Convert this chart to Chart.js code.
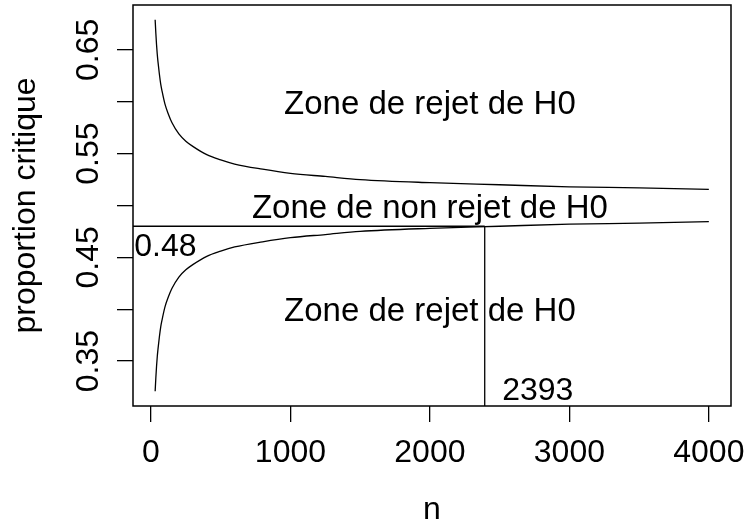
<!DOCTYPE html>
<html lang="fr">
<head>
    <meta charset="UTF-8">
    <title>proportion critique</title>
    <script src="https://cdn.jsdelivr.net/npm/chart.js"></script>
    <style>
        html, body { margin: 0; padding: 0; background: #fff; }
        #wrap { width: 748px; height: 525px; }
    </style>
</head>
<body>
    <div id="wrap"><canvas id="chartCanvas"></canvas></div>

    <script>
        // values
        const nValues = [30, 35, 40, 45, 50, 60, 70, 80, 100, 125, 150, 200, 250, 300, 400, 500, 600, 800, 1000, 1250, 1500, 2000, 2500, 3000, 3500, 4000];
        const upperBound = [0.679, 0.666, 0.655, 0.646, 0.639, 0.627, 0.617, 0.610, 0.598, 0.588, 0.580, 0.569, 0.562, 0.557, 0.549, 0.544, 0.540, 0.535, 0.531, 0.528, 0.525, 0.522, 0.520, 0.518, 0.517, 0.5155];
        const lowerBound = [0.321, 0.334, 0.345, 0.354, 0.361, 0.373, 0.383, 0.390, 0.402, 0.412, 0.420, 0.431, 0.438, 0.443, 0.451, 0.456, 0.460, 0.465, 0.469, 0.472, 0.475, 0.478, 0.480, 0.482, 0.483, 0.4845];
        const critP = 0.48;
        const critN = 2393;
        const xTicks = [0, 1000, 2000, 3000, 4000];
        const yTicks = [0.35, 0.40, 0.45, 0.50, 0.55, 0.60, 0.65];
        const yTickLabels = ['0.35', '', '0.45', '', '0.55', '', '0.65'];

        const xMin = -128.8, xMax = 4158.8;
        const yMin = 0.3067, yMax = 0.6933;
        const FONT = '"Liberation Sans", Arial, Helvetica, sans-serif';

        const toPoints = (xs, ys) => xs.map((x, i) => ({ x: x, y: ys[i] }));

        const lineStyle = {
            borderColor: '#000',
            borderWidth: 1.3,
            pointRadius: 0,
            fill: false,
            cubicInterpolationMode: 'monotone'
        };

        // R style texts, ticks labels and the box
        const rDecor = {
            id: 'rDecor',
            afterDraw(chart) {
                const c = chart.ctx;
                const a = chart.chartArea;
                const xs = chart.scales.x, ys = chart.scales.y;
                c.save();
                c.strokeStyle = '#000';
                c.lineWidth = 1.5;
                c.strokeRect(a.left, a.top, a.right - a.left, a.bottom - a.top);

                c.fillStyle = '#000';
                c.font = '32px ' + FONT;
                c.textBaseline = 'alphabetic';
                c.textAlign = 'center';

                // x tick labels
                xTicks.forEach(v => c.fillText(String(v), xs.getPixelForValue(v), 461.5));
                // x title
                c.fillText('n', (a.left + a.right) / 2, 518.5);

                // rotated y labels
                yTicks.forEach((v, i) => {
                    if (!yTickLabels[i]) return;
                    c.save();
                    c.translate(98, ys.getPixelForValue(v));
                    c.rotate(-Math.PI / 2);
                    c.fillText(yTickLabels[i], 0, 0);
                    c.restore();
                });
                c.save();
                c.translate(35, (a.top + a.bottom) / 2);
                c.rotate(-Math.PI / 2);
                c.fillText('proportion critique', 0, 0);
                c.restore();

                // zones
                c.font = '33px ' + FONT;
                c.fillText('Zone de rejet de H0', xs.getPixelForValue(2000), ys.getPixelForValue(0.6) + 12);
                c.fillText('Zone de non rejet de H0', xs.getPixelForValue(2000), ys.getPixelForValue(0.5) + 12);
                c.fillText('Zone de rejet de H0', xs.getPixelForValue(2000), ys.getPixelForValue(0.4) + 12);

                c.font = '32px ' + FONT;
                c.fillText(String(critN), xs.getPixelForValue(2773), ys.getPixelForValue(0.324) + 12);
                c.fillText(String(critP), xs.getPixelForValue(103), ys.getPixelForValue(0.4624) + 11);
                c.restore();
            }
        };

        const ctx = document.getElementById('chartCanvas').getContext('2d');
        const chart = new Chart(ctx, {
            type: 'line',
            data: {
                datasets: [
                    Object.assign({ data: toPoints(nValues, upperBound) }, lineStyle),
                    Object.assign({ data: toPoints(nValues, lowerBound) }, lineStyle),
                    Object.assign({ data: [{ x: xMin - 200, y: critP }, { x: critN, y: critP }] }, lineStyle, { cubicInterpolationMode: 'default', tension: 0 }),
                    Object.assign({ data: [{ x: critN, y: critP }, { x: critN, y: yMin - 0.05 }] }, lineStyle, { cubicInterpolationMode: 'default', tension: 0 })
                ]
            },
            options: {
                responsive: true,
                maintainAspectRatio: false,
                animation: false,
                events: [],
                layout: { padding: { left: 133, top: 5, right: 17, bottom: 119 } },
                plugins: { legend: { display: false }, tooltip: { enabled: false } },
                scales: {
                    x: {
                        type: 'linear',
                        min: xMin,
                        max: xMax,
                        afterBuildTicks: s => { s.ticks = xTicks.map(v => ({ value: v })); },
                        afterFit: s => { s.height = 0; },
                        ticks: { display: false },
                        border: { display: false },
                        grid: { drawOnChartArea: false, drawTicks: true, tickLength: 16, color: '#000', lineWidth: 1.3 }
                    },
                    y: {
                        type: 'linear',
                        min: yMin,
                        max: yMax,
                        afterBuildTicks: s => { s.ticks = yTicks.map(v => ({ value: v })); },
                        afterFit: s => { s.width = 0; },
                        ticks: { display: false },
                        border: { display: false },
                        grid: { drawOnChartArea: false, drawTicks: true, tickLength: 16, color: '#000', lineWidth: 1.3 }
                    }
                }
            },
            plugins: [rDecor]
        });
    </script>
</body>
</html>
